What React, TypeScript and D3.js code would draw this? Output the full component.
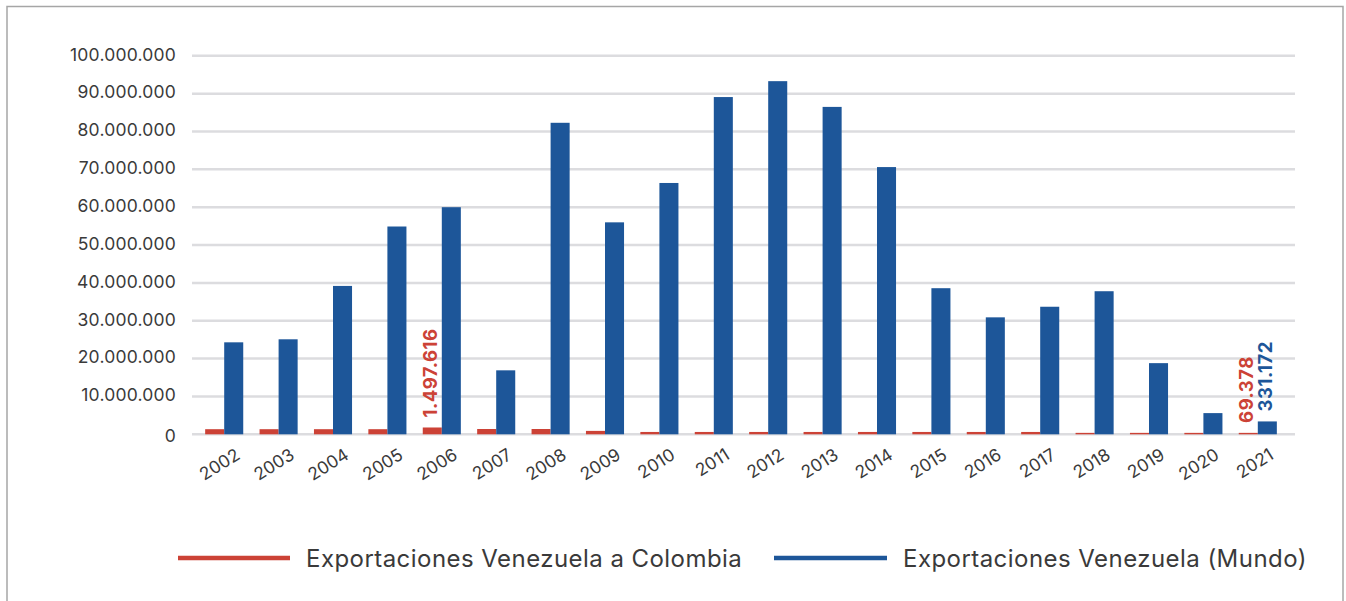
import * as d3 from "d3";

const years = [
  "2002", "2003", "2004", "2005", "2006", "2007", "2008", "2009", "2010", "2011",
  "2012", "2013", "2014", "2015", "2016", "2017", "2018", "2019", "2020", "2021",
];

// Exportaciones Venezuela a Colombia
const colombia = [
  1350000, 1350000, 1350000, 1350000, 1800000, 1400000, 1400000, 900000, 620000, 620000,
  620000, 620000, 620000, 620000, 620000, 620000, 380000, 380000, 380000, 380000,
];

// Exportaciones Venezuela (Mundo)
const mundo = [
  24300000, 25100000, 39200000, 54900000, 60000000, 16900000, 82300000, 56000000, 66400000, 89100000,
  93300000, 86500000, 70600000, 38600000, 30900000, 33700000, 37800000, 18800000, 5600000, 3400000,
];

const yTicks = [0, 10000000, 20000000, 30000000, 40000000, 50000000, 60000000, 70000000, 80000000, 90000000, 100000000];

const series = ["colombia", "mundo"];
const seriesNames = ["Exportaciones Venezuela a Colombia", "Exportaciones Venezuela (Mundo)"];
const seriesValues = [colombia, mundo];

// labels shown on the chart
const callouts = [
  { year: "2006", series: "colombia", text: "1.497.616" },
  { year: "2021", series: "colombia", text: "69.378" },
  { year: "2021", series: "mundo", text: "331.172" },
];

const COLORS: Record<string, string> = { colombia: "#cc4236", mundo: "#1d5699" };
const TEXT = "#3a3a3a";
const FONT = "Inter, 'Noto Sans', sans-serif";

const fmt = (v: number) => (v === 0 ? "0" : d3.format(",")(v).replace(/,/g, "."));

export default function App() {
  const width = 1346;
  const height = 601;

  const x = d3.scaleBand<string>().domain(years).range([197, 1285]).paddingInner(0.3).paddingOuter(0.15);
  const x1 = d3.scaleBand<string>().domain(series).range([0, x.bandwidth()]).padding(0);
  const y = d3.scaleLinear().domain([0, 100000000]).range([434.3, 55.8]);

  return (
    <svg
      width={width}
      height={height}
      style={{ position: "absolute", left: 0, top: 0, display: "block", background: "#fff" }}
      fontFamily={FONT}
    >
      <rect x={7} y={6.5} width={1336} height={620} fill="#fff" stroke="#a6a6a6" strokeWidth={1.5} />

      {/* grid */}
      {yTicks.map((t) => (
        <line key={t} x1={192} x2={1295} y1={y(t)} y2={y(t)} stroke="#dcdcdf" strokeWidth={2.5} />
      ))}

      {/* y labels */}
      {yTicks.map((t) => (
        <text
          key={t}
          x={176}
          y={t === 0 ? y(t) + 3 : y(t)}
          textAnchor="end"
          dominantBaseline="middle"
          fontSize={17.5}
          letterSpacing={0.2}
          fill={TEXT}
        >
          {fmt(t)}
        </text>
      ))}

      {/* bars */}
      {years.map((yr, i) => (
        <g key={yr} transform={`translate(${x(yr)},0)`}>
          {series.map((s, k) => {
            const v = seriesValues[k][i];
            return (
              <rect
                key={s}
                x={x1(s)}
                y={y(v)}
                width={x1.bandwidth()}
                height={y(0) - y(v)}
                fill={COLORS[s]}
              />
            );
          })}
        </g>
      ))}

      {/* x labels */}
      {years.map((yr) => {
        const cx = (x(yr) ?? 0) + x.bandwidth() / 2 + 17;
        const cy = 458;
        return (
          <text
            key={yr}
            x={cx}
            y={cy}
            textAnchor="end"
            fontSize={17.5}
            fill={TEXT}
            transform={`rotate(-32,${cx},${cy})`}
          >
            {yr}
          </text>
        );
      })}

      {/* data callouts */}
      {callouts.map((c) => {
        const k = series.indexOf(c.series);
        const i = years.indexOf(c.year);
        const v = seriesValues[k][i];
        const cx = (x(c.year) ?? 0) + (x1(c.series) ?? 0) + x1.bandwidth() / 2;
        const cy = y(v) - 10;
        return (
          <text
            key={c.year + c.series}
            x={cx}
            y={cy}
            transform={`rotate(-90,${cx},${cy})`}
            dominantBaseline="middle"
            fontSize={18.5}
            fontWeight={700}
            letterSpacing={0.5}
            fill={COLORS[c.series]}
          >
            {c.text}
          </text>
        );
      })}

      {/* legend */}
      <g>
        <line x1={178} x2={290} y1={558} y2={558} stroke={COLORS.colombia} strokeWidth={4.5} />
        <text x={306} y={560} dominantBaseline="middle" fontSize={24} letterSpacing={0.45} fill={TEXT}>
          {seriesNames[0]}
        </text>
        <line x1={774} x2={887} y1={558} y2={558} stroke={COLORS.mundo} strokeWidth={4.5} />
        <text x={903} y={560} dominantBaseline="middle" fontSize={24} letterSpacing={0.45} fill={TEXT}>
          {seriesNames[1]}
        </text>
      </g>
    </svg>
  );
}
